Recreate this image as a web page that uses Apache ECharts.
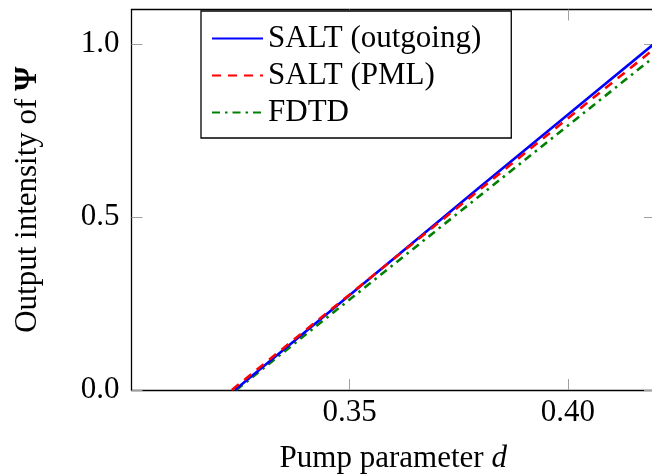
<!DOCTYPE html>
<html>
<head>
<meta charset="utf-8">
<script src="https://cdn.jsdelivr.net/npm/echarts@6/dist/echarts.min.js"></script>
<style>
  html, body { margin: 0; padding: 0; background: #fff; }
  #chart { width: 652px; height: 474px; }
</style>
</head>
<body>
<div id="chart"></div>
<script>
// Output intensity vs pump parameter d for three methods
const saltOutgoingD = [0.3237, 0.34, 0.36, 0.38, 0.40, 0.42];
const saltOutgoingI = [0.0, 0.170, 0.379, 0.588, 0.796, 1.003];

const saltPmlD = [0.3230, 0.34, 0.36, 0.38, 0.40, 0.42];
const saltPmlI = [0.0, 0.174, 0.378, 0.581, 0.785, 0.988];

const fdtdD = [0.3240, 0.34, 0.36, 0.38, 0.40, 0.42];
const fdtdI = [0.0, 0.161, 0.362, 0.563, 0.764, 0.965];

const xTicks = [0.35, 0.40];
const yTicks = [0.0, 0.5, 1.0];

const seriesNames = ['SALT (outgoing)', 'SALT (PML)', 'FDTD'];

const FONT = '"Liberation Serif", "DejaVu Serif", serif';
const FS = 31;

const pairs = (xs, ys) => xs.map((x, i) => [x, ys[i]]);

const chart = echarts.init(document.getElementById('chart'), null, { renderer: 'canvas' });

const boxAxisLine = { show: true, onZero: false, lineStyle: { color: '#000', width: 1.3 } };
const innerTick = (vals) => ({ show: true, inside: true, length: 11, customValues: vals, lineStyle: { color: '#a0a0a0', width: 1 } });

chart.setOption({
  animation: false,
  backgroundColor: '#fff',
  grid: { left: 131.5, right: -3, top: 9.5, bottom: 84, containLabel: false, outerBoundsMode: 'none' },
  legend: {
    orient: 'vertical',
    left: 201,
    top: 11,
    padding: [9, 30, 7, 10],
    itemGap: 0,
    itemWidth: 51,
    itemHeight: 14,
    backgroundColor: '#fff',
    borderColor: '#000',
    borderWidth: 1.3,
    borderRadius: 0,
    data: seriesNames,
    itemStyle: { opacity: 0, borderWidth: 0 },
    textStyle: { fontFamily: FONT, fontSize: FS, lineHeight: 37, color: '#000' }
  },
  xAxis: [
    {
      type: 'value', position: 'bottom', min: 0.30, max: 0.42, interval: 0.05,
      axisLine: boxAxisLine,
      axisTick: innerTick(xTicks),
      splitLine: { show: false },
      axisLabel: {
        customValues: xTicks, margin: 7, color: '#000', fontFamily: FONT, fontSize: FS,
        formatter: v => v.toFixed(2)
      },
      name: '{n|Pump parameter }{i|d}',
      nameLocation: 'middle',
      nameGap: 53,
      nameTextStyle: {
        rich: {
          n: { fontFamily: FONT, fontSize: FS, color: '#000' },
          i: { fontFamily: FONT, fontSize: FS, fontStyle: 'italic', color: '#000' }
        }
      }
    },
    {
      type: 'value', position: 'top', min: 0.30, max: 0.42, interval: 0.05,
      axisLine: boxAxisLine,
      axisTick: innerTick(xTicks),
      axisLabel: { show: false },
      splitLine: { show: false }
    }
  ],
  yAxis: [
    {
      type: 'value', position: 'left', min: 0, max: 1.1, interval: 0.5,
      axisLine: boxAxisLine,
      axisTick: innerTick(yTicks),
      splitLine: { show: false },
      axisLabel: {
        customValues: yTicks, margin: 12, color: '#000', fontFamily: FONT, fontSize: FS,
        formatter: v => v.toFixed(1)
      },
      name: '{n|Output intensity of }{b|Ψ}',
      nameLocation: 'middle',
      nameGap: 88,
      nameTextStyle: {
        rich: {
          n: { fontFamily: FONT, fontSize: FS, color: '#000' },
          b: { fontFamily: FONT, fontSize: FS, fontWeight: 'bold', color: '#000' }
        }
      }
    },
    {
      type: 'value', position: 'right', min: 0, max: 1.1, interval: 0.5,
      axisLine: boxAxisLine,
      axisTick: innerTick(yTicks),
      axisLabel: { show: false },
      splitLine: { show: false }
    }
  ],
  series: [
    {
      name: seriesNames[0], type: 'line', data: pairs(saltOutgoingD, saltOutgoingI),
      showSymbol: false, symbol: 'none', clip: true, z: 3,
      lineStyle: { color: '#0000ff', width: 2.6, type: 'solid' },
      itemStyle: { color: '#0000ff' }
    },
    {
      name: seriesNames[1], type: 'line', data: pairs(saltPmlD, saltPmlI),
      showSymbol: false, symbol: 'none', clip: true, z: 4,
      lineStyle: { color: '#ff0000', width: 2.6, type: [9, 7] },
      itemStyle: { color: '#ff0000' }
    },
    {
      name: seriesNames[2], type: 'line', data: pairs(fdtdD, fdtdI),
      showSymbol: false, symbol: 'none', clip: true, z: 2,
      lineStyle: { color: '#008000', width: 2.6, type: [8, 5, 2.5, 5] },
      itemStyle: { color: '#008000' }
    }
  ]
});
</script>
</body>
</html>
